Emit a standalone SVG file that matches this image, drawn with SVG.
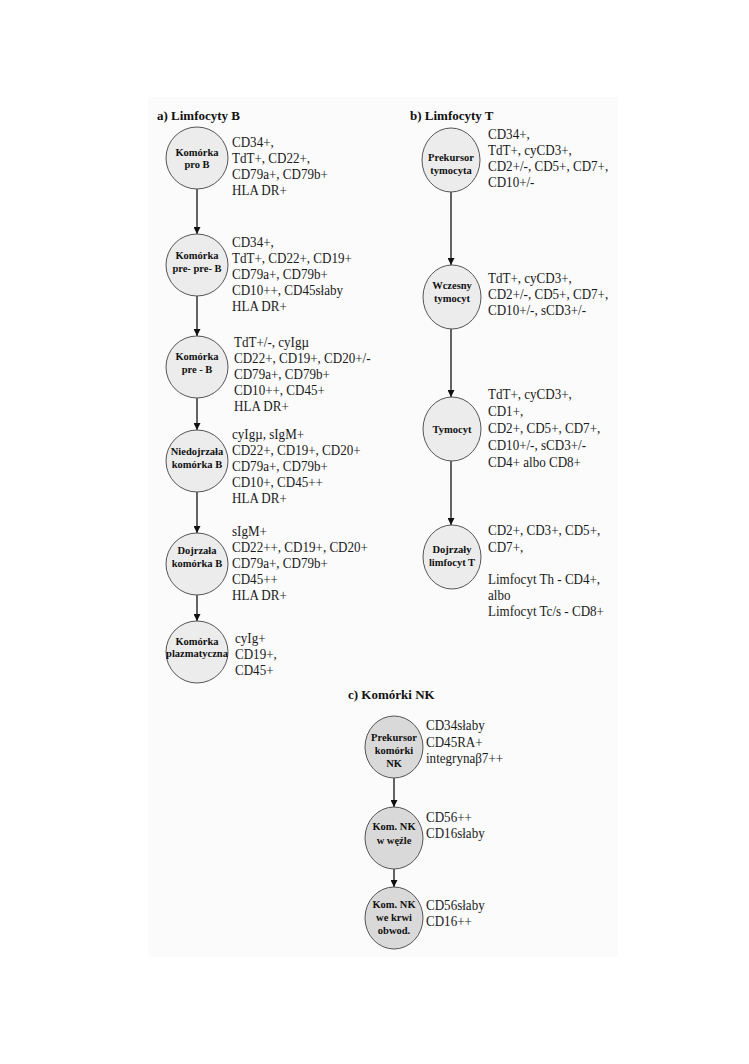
<svg xmlns="http://www.w3.org/2000/svg" width="749" height="1064" viewBox="0 0 749 1064">
<defs>
<marker id="ah" viewBox="0 0 10 10" refX="10" refY="5" markerWidth="7" markerHeight="7" markerUnits="userSpaceOnUse" orient="auto">
<path d="M0,0 L10,5 L0,10 z" fill="#111"/>
</marker>
<style>
.bg{fill:#fbfbfb}
.c{fill:#ececec;stroke:#555;stroke-width:1}
.cn{fill:#d9d9d9;stroke:#555;stroke-width:1}
.nt{font-family:"Liberation Serif","Times New Roman",serif;font-weight:bold;font-size:10.5px;fill:#111;text-anchor:middle}
.d{font-family:"Liberation Serif","Times New Roman",serif;font-size:14.5px;fill:#1a1a1a}
.h{font-family:"Liberation Serif","Times New Roman",serif;font-weight:bold;font-size:13px;fill:#111}
.ar{stroke:#111;stroke-width:1.3;fill:none;marker-end:url(#ah)}
</style>
</defs>
<rect width="749" height="1064" fill="#ffffff"/>
<rect class="bg" x="148" y="97" width="470" height="860"/>

<text class="h" x="157" y="120">a) Limfocyty B</text>
<text class="h" x="410" y="120">b) Limfocyty T</text>
<text class="h" x="348" y="699">c) Komórki NK</text>

<g id="connectors">
<line class="ar" x1="197" y1="189" x2="197" y2="234"/>
<line class="ar" x1="197" y1="296" x2="197" y2="336"/>
<line class="ar" x1="197" y1="398" x2="197" y2="430"/>
<line class="ar" x1="197" y1="492" x2="197" y2="533"/>
<line class="ar" x1="197" y1="595" x2="197" y2="621"/>
<line class="ar" x1="451" y1="192" x2="451" y2="265"/>
<line class="ar" x1="451" y1="329" x2="451" y2="397"/>
<line class="ar" x1="451" y1="461" x2="451" y2="525"/>
<line class="ar" x1="394" y1="778" x2="394" y2="807"/>
<line class="ar" x1="394" y1="869" x2="394" y2="887"/>
</g>

<g id="b1">
<ellipse class="c" cx="197" cy="158" rx="31" ry="31"/>
<text class="nt" x="197" y="156">Komórka</text>
<text class="nt" x="197" y="168">pro B</text>
<g transform="translate(232 0) scale(0.9 1)">
<text class="d" x="0" y="147">CD34+,</text>
<text class="d" x="0" y="163">TdT+, CD22+,</text>
<text class="d" x="0" y="179">CD79a+, CD79b+</text>
<text class="d" x="0" y="195">HLA DR+</text>
</g>
</g>
<g id="b2">
<ellipse class="c" cx="197" cy="265" rx="31" ry="31"/>
<text class="nt" x="197" y="259">Komórka</text>
<text class="nt" x="197" y="272">pre- pre- B</text>
<g transform="translate(232 0) scale(0.9 1)">
<text class="d" x="0" y="247">CD34+,</text>
<text class="d" x="0" y="263">TdT+, CD22+, CD19+</text>
<text class="d" x="0" y="279">CD79a+, CD79b+</text>
<text class="d" x="0" y="295">CD10++, CD45słaby</text>
<text class="d" x="0" y="311">HLA DR+</text>
</g>
</g>
<g id="b3">
<ellipse class="c" cx="197" cy="367" rx="31" ry="31"/>
<text class="nt" x="197" y="360">Komórka</text>
<text class="nt" x="197" y="373">pre - B</text>
<g transform="translate(234 0) scale(0.9 1)">
<text class="d" x="0" y="347">TdT+/-, cyIgµ</text>
<text class="d" x="0" y="363">CD22+, CD19+, CD20+/-</text>
<text class="d" x="0" y="379">CD79a+, CD79b+</text>
<text class="d" x="0" y="395">CD10++, CD45+</text>
<text class="d" x="0" y="411">HLA DR+</text>
</g>
</g>
<g id="b4">
<ellipse class="c" cx="197" cy="461" rx="31" ry="31"/>
<text class="nt" x="197" y="455">Niedojrzała</text>
<text class="nt" x="197" y="468">komórka B</text>
<g transform="translate(232 0) scale(0.9 1)">
<text class="d" x="0" y="439">cyIgµ, sIgM+</text>
<text class="d" x="0" y="455">CD22+, CD19+, CD20+</text>
<text class="d" x="0" y="471">CD79a+, CD79b+</text>
<text class="d" x="0" y="487">CD10+, CD45++</text>
<text class="d" x="0" y="503">HLA DR+</text>
</g>
</g>
<g id="b5">
<ellipse class="c" cx="197" cy="564" rx="31" ry="31"/>
<text class="nt" x="197" y="554">Dojrzała</text>
<text class="nt" x="197" y="567">komórka B</text>
<g transform="translate(232 0) scale(0.9 1)">
<text class="d" x="0" y="536">sIgM+</text>
<text class="d" x="0" y="552">CD22++, CD19+, CD20+</text>
<text class="d" x="0" y="568">CD79a+, CD79b+</text>
<text class="d" x="0" y="584">CD45++</text>
<text class="d" x="0" y="600">HLA DR+</text>
</g>
</g>
<g id="b6">
<ellipse class="c" cx="197" cy="652" rx="31" ry="31"/>
<text class="nt" x="197" y="645">Komórka</text>
<text class="nt" x="197" y="657">plazmatyczna</text>
<g transform="translate(235 0) scale(0.9 1)">
<text class="d" x="0" y="643">cyIg+</text>
<text class="d" x="0" y="659">CD19+,</text>
<text class="d" x="0" y="675">CD45+</text>
</g>
</g>

<g id="t1">
<ellipse class="c" cx="451" cy="160" rx="29" ry="32"/>
<text class="nt" x="451" y="161">Prekursor</text>
<text class="nt" x="451" y="174">tymocyta</text>
<g transform="translate(488 0) scale(0.9 1)">
<text class="d" x="0" y="139">CD34+,</text>
<text class="d" x="0" y="155">TdT+, cyCD3+,</text>
<text class="d" x="0" y="171">CD2+/-, CD5+, CD7+,</text>
<text class="d" x="0" y="187">CD10+/-</text>
</g>
</g>
<g id="t2">
<ellipse class="c" cx="452" cy="297" rx="29" ry="32"/>
<text class="nt" x="452" y="289">Wczesny</text>
<text class="nt" x="452" y="302">tymocyt</text>
<g transform="translate(488 0) scale(0.9 1)">
<text class="d" x="0" y="283">TdT+, cyCD3+,</text>
<text class="d" x="0" y="299">CD2+/-, CD5+, CD7+,</text>
<text class="d" x="0" y="315">CD10+/-, sCD3+/-</text>
</g>
</g>
<g id="t3">
<ellipse class="c" cx="452" cy="429" rx="29" ry="32"/>
<text class="nt" x="452" y="433">Tymocyt</text>
<g transform="translate(488 0) scale(0.9 1)">
<text class="d" x="0" y="399">TdT+, cyCD3+,</text>
<text class="d" x="0" y="416">CD1+,</text>
<text class="d" x="0" y="433">CD2+, CD5+, CD7+,</text>
<text class="d" x="0" y="450">CD10+/-, sCD3+/-</text>
<text class="d" x="0" y="467">CD4+ albo CD8+</text>
</g>
</g>
<g id="t4">
<ellipse class="c" cx="452" cy="557" rx="29" ry="32"/>
<text class="nt" x="452" y="553">Dojrzały</text>
<text class="nt" x="452" y="566">limfocyt T</text>
<g transform="translate(488 0) scale(0.9 1)">
<text class="d" x="0" y="535">CD2+, CD3+, CD5+,</text>
<text class="d" x="0" y="552">CD7+,</text>
<text class="d" x="0" y="584">Limfocyt Th - CD4+,</text>
<text class="d" x="0" y="600">albo</text>
<text class="d" x="0" y="616">Limfocyt Tc/s - CD8+</text>
</g>
</g>

<g id="nk1">
<ellipse class="cn" cx="394" cy="747" rx="29" ry="31"/>
<text class="nt" x="394" y="741">Prekursor</text>
<text class="nt" x="394" y="754">komórki</text>
<text class="nt" x="394" y="767">NK</text>
<g transform="translate(426 0) scale(0.9 1)">
<text class="d" x="0" y="730">CD34słaby</text>
<text class="d" x="0" y="747">CD45RA+</text>
<text class="d" x="0" y="763">integrynaβ7++</text>
</g>
</g>
<g id="nk2">
<ellipse class="cn" cx="394" cy="838" rx="29" ry="31"/>
<text class="nt" x="394" y="830">Kom. NK</text>
<text class="nt" x="394" y="844">w węźle</text>
<g transform="translate(426 0) scale(0.9 1)">
<text class="d" x="0" y="822">CD56++</text>
<text class="d" x="0" y="838">CD16słaby</text>
</g>
</g>
<g id="nk3">
<ellipse class="cn" cx="394" cy="918" rx="29" ry="31"/>
<text class="nt" x="394" y="908">Kom. NK</text>
<text class="nt" x="394" y="921">we krwi</text>
<text class="nt" x="394" y="934">obwod.</text>
<g transform="translate(426 0) scale(0.9 1)">
<text class="d" x="0" y="910">CD56słaby</text>
<text class="d" x="0" y="926">CD16++</text>
</g>
</g>
</svg>
